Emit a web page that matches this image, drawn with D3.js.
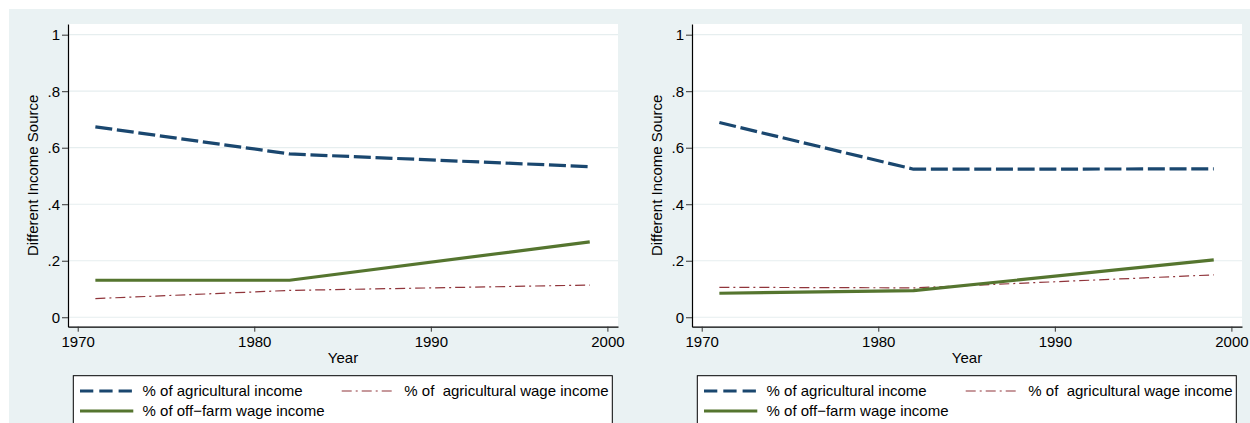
<!DOCTYPE html>
<html>
<head>
<meta charset="utf-8">
<script src="https://cdn.jsdelivr.net/npm/d3@7"></script>
<style>
  html, body { margin: 0; padding: 0; background: #ffffff; }
  svg { display: block; font-family: "Liberation Sans", Arial, Helvetica, sans-serif; }
</style>
</head>
<body>
<svg id="chart" width="1250" height="423"></svg>
<script>
// Survey years and income-share series for the two panels
const years = [1971, 1982, 1999];

const leftAgricultural = [0.674, 0.578, 0.533];
const leftAgriWage     = [0.066, 0.095, 0.114];
const leftOffFarm      = [0.131, 0.131, 0.267];

const rightAgricultural = [0.689, 0.524, 0.525];
const rightAgriWage     = [0.106, 0.104, 0.150];
const rightOffFarm      = [0.085, 0.094, 0.203];

const xTicks = [1970, 1980, 1990, 2000];
const yTicks = [0, 0.2, 0.4, 0.6, 0.8, 1];
const yTickLabels = ["0", ".2", ".4", ".6", ".8", "1"];

const seriesNames = ["% of agricultural income", "% of  agricultural wage income", "% of off\u2212farm wage income"];

const svg = d3.select("#chart");
const W = 1250, H = 423;

// graph region background
svg.append("rect").attr("x", 9).attr("y", 9).attr("width", W - 9).attr("height", H - 9)
  .attr("fill", "#eaf2f3");

const styles = [
  { color: "#1a476f", width: 3.2, dash: "17,4.7", keyDash: "13.3,6" },
  { color: "#90353b", width: 1.2, dash: "10,4,2,4", keyDash: "10,4,2,4" },
  { color: "#55752f", width: 3.2, dash: null, keyDash: null }
];

function panel(left, series) {
  const plot = { x0: left, x1: left + 550, y0: 24, y1: 326.7 };
  const g = svg.append("g");

  const x = d3.scaleLinear().domain([1969.45, 2000.6]).range([plot.x0, plot.x1]);
  const y = d3.scaleLinear().domain([-0.0334, 1.0378]).range([plot.y1, plot.y0]);

  g.append("rect").attr("x", plot.x0).attr("y", plot.y0)
    .attr("width", plot.x1 - plot.x0).attr("height", plot.y1 - plot.y0)
    .attr("fill", "#ffffff");

  // horizontal grid
  g.append("g").selectAll("line").data(yTicks).join("line")
    .attr("x1", plot.x0).attr("x2", plot.x1)
    .attr("y1", d => y(d)).attr("y2", d => y(d))
    .attr("stroke", "#e6eeef").attr("stroke-width", 1.2);

  // y axis
  const yAxis = g.append("g").attr("transform", `translate(${plot.x0},0)`)
    .call(d3.axisLeft(y).tickValues(yTicks).tickSize(6).tickSizeOuter(0).tickPadding(2)
      .tickFormat((d, i) => yTickLabels[i]));
  yAxis.selectAll("text").attr("font-size", 15).attr("fill", "#000")
    .attr("font-family", '"Liberation Sans", Arial, sans-serif');
  yAxis.select(".domain").attr("stroke", "#000").attr("stroke-width", 1.2);
  yAxis.selectAll(".tick line").attr("stroke", "#333");

  // x axis
  const xAxis = g.append("g").attr("transform", `translate(0,${plot.y1})`)
    .call(d3.axisBottom(x).tickValues(xTicks).tickSize(5).tickSizeOuter(0).tickPadding(5)
      .tickFormat(d3.format("d")));
  xAxis.selectAll("text").attr("font-size", 15).attr("fill", "#000")
    .attr("font-family", '"Liberation Sans", Arial, sans-serif');
  xAxis.select(".domain").attr("stroke", "#000").attr("stroke-width", 1.2);
  xAxis.selectAll(".tick line").attr("stroke", "#333");

  // axis titles
  g.append("text").attr("transform", `translate(${left - 35},${(plot.y0 + plot.y1) / 2}) rotate(-90)`)
    .attr("text-anchor", "middle").attr("dy", "0.35em").attr("font-size", 15).attr("fill", "#000")
    .text("Different Income Source");
  g.append("text").attr("x", (plot.x0 + plot.x1) / 2).attr("y", 363)
    .attr("text-anchor", "middle").attr("font-size", 15).attr("fill", "#000")
    .text("Year");

  // series lines
  const line = d3.line().x(d => x(d[0])).y(d => y(d[1]));
  series.forEach((vals, i) => {
    const st = styles[i];
    g.append("path")
      .datum(years.map((yr, j) => [yr, vals[j]]))
      .attr("d", line)
      .attr("fill", "none")
      .attr("stroke", st.color)
      .attr("stroke-width", st.width)
      .attr("stroke-dasharray", st.dash)
      .attr("stroke-linejoin", "round");
  });

  // legend
  const lx = left + 5.3, ly = 375.7;
  const lg = g.append("g");
  lg.append("rect").attr("x", lx).attr("y", ly).attr("width", 539).attr("height", 80)
    .attr("fill", "#ffffff").attr("stroke", "#000").attr("stroke-width", 1);
  const slots = [
    { kx: lx + 6.7, ty: 391 },
    { kx: lx + 268.4, ty: 391 },
    { kx: lx + 6.7, ty: 411 }
  ];
  slots.forEach((s, i) => {
    const st = styles[i];
    lg.append("line").attr("x1", s.kx).attr("x2", s.kx + 53.3)
      .attr("y1", s.ty).attr("y2", s.ty)
      .attr("stroke", st.color).attr("stroke-width", st.width)
      .attr("stroke-dasharray", st.keyDash);
    lg.append("text").attr("x", s.kx + 62.6).attr("y", s.ty).attr("dy", "0.35em")
      .attr("font-size", 15).attr("fill", "#000").attr("xml:space", "preserve")
      .style("white-space", "pre")
      .text(seriesNames[i]);
  });
}

panel(68, [leftAgricultural, leftAgriWage, leftOffFarm]);
panel(692, [rightAgricultural, rightAgriWage, rightOffFarm]);
</script>
</body>
</html>
